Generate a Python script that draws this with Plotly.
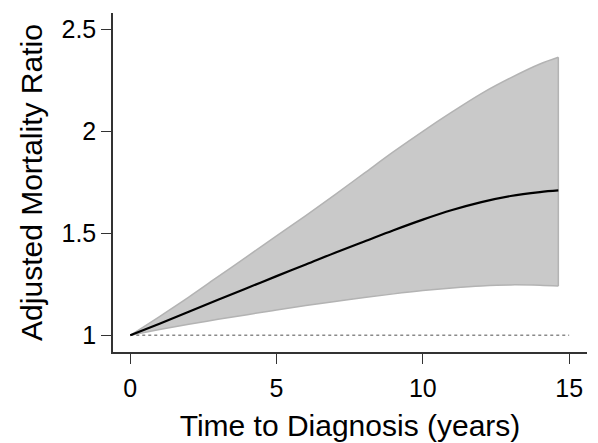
import plotly.graph_objects as go

years = [0, 1, 2, 3, 4, 5, 6, 7, 8, 9, 10, 11, 12, 13, 14, 14.63]
ratio = [1.000, 1.057, 1.115, 1.174, 1.232, 1.290, 1.347, 1.405, 1.460, 1.515,
         1.567, 1.614, 1.653, 1.683, 1.702, 1.710]
upper = [1.000, 1.092, 1.187, 1.287, 1.387, 1.487, 1.587, 1.690, 1.795, 1.900,
         2.000, 2.095, 2.185, 2.262, 2.330, 2.363]
lower = [1.000, 1.028, 1.054, 1.078, 1.101, 1.124, 1.146, 1.166, 1.185, 1.203,
         1.219, 1.232, 1.242, 1.247, 1.245, 1.241]
ref_x = [0, 15]
ref_y = [1, 1]
x_ticks = [0, 5, 10, 15]
y_ticks = [1, 1.5, 2, 2.5]
y_ticktext = ["1", "1.5", "2", "2.5"]

FONT = "Liberation Sans, Arial, sans-serif"
BAND_EDGE = "#b3b3b3"

fig = go.Figure()
fig.add_trace(go.Scatter(
    x=years, y=lower, mode="lines",
    line=dict(color=BAND_EDGE, width=1.5, shape="spline"),
    hoverinfo="skip", showlegend=False))
fig.add_trace(go.Scatter(
    x=years, y=upper, mode="lines", fill="tonexty", fillcolor="#c9c9c9",
    line=dict(color=BAND_EDGE, width=1.5, shape="spline"),
    hoverinfo="skip", showlegend=False))
fig.add_trace(go.Scatter(
    x=[years[-1], years[-1]], y=[lower[-1], upper[-1]], mode="lines",
    line=dict(color=BAND_EDGE, width=1.5),
    hoverinfo="skip", showlegend=False))
fig.add_trace(go.Scatter(
    x=ref_x, y=ref_y, mode="lines",
    line=dict(color="#8a8a8a", width=1.4, dash="dot"), showlegend=False))
fig.add_trace(go.Scatter(
    x=years, y=ratio, mode="lines",
    line=dict(color="black", width=2.2, shape="spline"), showlegend=False))

fig.update_layout(
    width=590, height=435,
    margin=dict(l=105, r=11, t=5, b=91),
    paper_bgcolor="white", plot_bgcolor="white",
    font=dict(family=FONT, size=25, color="black"),
    xaxis=dict(range=[-0.59, 15.61], tickvals=x_ticks, ticks="outside",
               ticklen=10, tickwidth=1.3, tickcolor="#333",
               showline=True, linecolor="#333", linewidth=1.5,
               showgrid=False, zeroline=False, automargin=False,
               tickfont=dict(size=25), ticklabelstandoff=3,
               title=dict(text="Time to Diagnosis (years)", font=dict(size=30), standoff=14)),
    yaxis=dict(range=[0.918, 2.58], tickvals=y_ticks, ticktext=y_ticktext,
               ticks="outside", ticklen=10, tickwidth=1.3, tickcolor="#333",
               showline=True, linecolor="#333", linewidth=1.5,
               showgrid=False, zeroline=False, automargin=False,
               tickfont=dict(size=25),
               title=dict(text="Adjusted Mortality Ratio", font=dict(size=30), standoff=10)),
)

fig.write_html("out.html")
